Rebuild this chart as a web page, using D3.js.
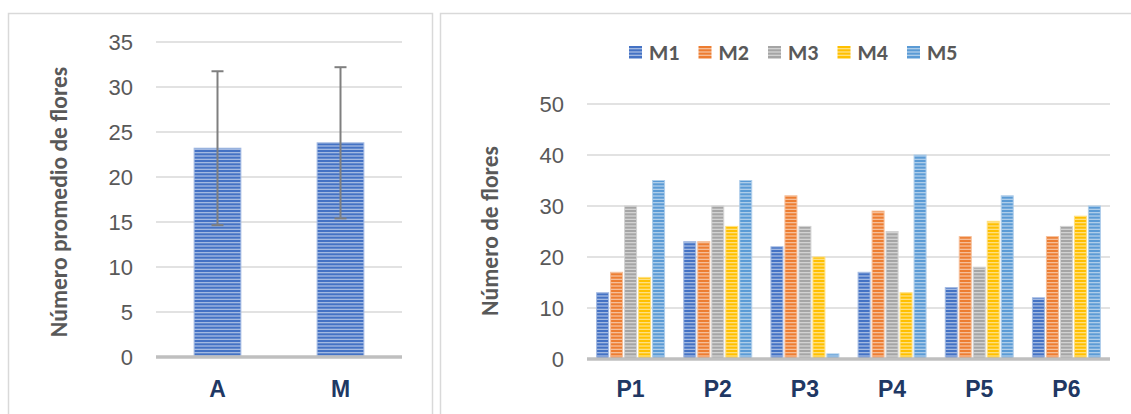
<!DOCTYPE html>
<html>
<head>
<meta charset="utf-8">
<script src="https://cdn.jsdelivr.net/npm/d3@7"></script>
<style>
  html, body { margin: 0; padding: 0; background: #fff; }
  svg { display: block; font-family: Carlito, "Open Sans", "Liberation Sans", sans-serif; }
</style>
</head>
<body>
<svg id="chart" width="1131" height="414"></svg>
<script>
// ---- Left chart: mean number of flowers with error bars ----
const groups = ["A", "M"];
const groupMeans = [23.2, 23.8];
const groupErrors = [8.55, 8.4];
const leftTicks = [0, 5, 10, 15, 20, 25, 30, 35];

// ---- Right chart: flowers per plant (P) and measurement (M) ----
const plants = ["P1", "P2", "P3", "P4", "P5", "P6"];
const series = ["M1", "M2", "M3", "M4", "M5"];
const M1 = [13, 23, 22, 17, 14, 12];
const M2 = [17, 23, 32, 29, 24, 24];
const M3 = [30, 30, 26, 25, 18, 26];
const M4 = [16, 26, 20, 13, 27, 28];
const M5 = [35, 35, 1, 40, 32, 30];
const rightTicks = [0, 10, 20, 30, 40, 50];

const seriesValues = [M1, M2, M3, M4, M5];
const seriesColors = ["#4472C4", "#ED7D31", "#A5A5A5", "#FFC000", "#5B9BD5"];

const svg = d3.select("#chart");
const defs = svg.append("defs");

// horizontal-stripe pattern fill for each colour
function stripePattern(id, color) {
  const light = d3.interpolateRgb(color, "#ffffff")(0.5);
  const p = defs.append("pattern")
    .attr("id", id)
    .attr("patternUnits", "userSpaceOnUse")
    .attr("width", 8).attr("height", 10);
  p.append("rect").attr("width", 8).attr("height", 10).attr("fill", light);
  [0, 3.33, 6.67].forEach(y =>
    p.append("rect").attr("y", y).attr("width", 8).attr("height", 2).attr("fill", color));
  return light;
}
const lightColors = seriesColors.map((c, i) => stripePattern("pat" + i, c));

// panel frames
svg.append("rect").attr("x", 8.5).attr("y", 13.5).attr("width", 424).attr("height", 420)
  .attr("fill", "#fff").attr("stroke", "#d9d9d9").attr("stroke-width", 1.5);
svg.append("rect").attr("x", 440.5).attr("y", 13.5).attr("width", 720).attr("height", 420)
  .attr("fill", "#fff").attr("stroke", "#d9d9d9").attr("stroke-width", 1.5);

const tickColor = "#595959";
const catColor = "#1F3864";
const tickSize = 22;
const catSize = 23;
const legendSize = 22;
const titleSize = 23.5;

// ================= Left chart =================
const xL = d3.scaleBand().domain(groups).range([156, 402]).paddingInner(0.62).paddingOuter(0.31);
const yL = d3.scaleLinear().domain([0, 35]).range([357, 42]);

const gL = svg.append("g");
gL.selectAll("line.grid").data(leftTicks.filter(t => t > 0)).join("line")
  .attr("x1", 156).attr("x2", 402)
  .attr("y1", d => yL(d)).attr("y2", d => yL(d))
  .attr("stroke", "#d9d9d9").attr("stroke-width", 1.5);

const axL = d3.axisLeft(yL).tickValues(leftTicks).tickSize(0).tickPadding(0);
const axLg = gL.append("g").attr("transform", "translate(133,0)").call(axL);
axLg.select(".domain").remove();
axLg.selectAll("text").attr("fill", tickColor).attr("font-size", tickSize).attr("dy", "0.35em");

gL.selectAll("rect.bar").data(groups).join("rect")
  .attr("x", d => xL(d)).attr("width", xL.bandwidth())
  .attr("y", (d, i) => yL(groupMeans[i]))
  .attr("height", (d, i) => yL(0) - yL(groupMeans[i]))
  .attr("fill", "url(#pat0)")
  .attr("stroke", lightColors[0]).attr("stroke-width", 1);

gL.append("line").attr("x1", 156).attr("x2", 402).attr("y1", yL(0)).attr("y2", yL(0))
  .attr("stroke", "#bfbfbf").attr("stroke-width", 3.5);

// error bars
const errG = gL.selectAll("g.err").data(groups).join("g")
  .attr("transform", d => `translate(${xL(d) + xL.bandwidth() / 2},0)`);
errG.append("line")
  .attr("y1", (d, i) => yL(groupMeans[i] + groupErrors[i]))
  .attr("y2", (d, i) => yL(groupMeans[i] - groupErrors[i]))
  .attr("stroke", "#7f7f7f").attr("stroke-width", 2);
errG.append("line").attr("x1", -6).attr("x2", 6)
  .attr("y1", (d, i) => yL(groupMeans[i] + groupErrors[i]))
  .attr("y2", (d, i) => yL(groupMeans[i] + groupErrors[i]))
  .attr("stroke", "#7f7f7f").attr("stroke-width", 2);
errG.append("line").attr("x1", -6).attr("x2", 6)
  .attr("y1", (d, i) => yL(groupMeans[i] - groupErrors[i]))
  .attr("y2", (d, i) => yL(groupMeans[i] - groupErrors[i]))
  .attr("stroke", "#7f7f7f").attr("stroke-width", 2);

const axLx = d3.axisBottom(xL).tickSize(0).tickPadding(0);
const axLxg = gL.append("g").attr("transform", "translate(0,397)").call(axLx);
axLxg.select(".domain").remove();
axLxg.selectAll("text").attr("fill", catColor).attr("font-size", catSize)
  .attr("font-weight", "bold").attr("dy", 0);

gL.append("text").attr("transform", "translate(67,202) rotate(-90)")
  .attr("text-anchor", "middle").attr("fill", tickColor)
  .attr("font-size", titleSize).attr("font-weight", "bold")
  .text("Número promedio de flores");

// ================= Right chart =================
const x0 = d3.scaleBand().domain(plants).range([587, 1110]).padding(0);
const x1 = d3.scaleBand().domain(series).range([0, x0.bandwidth()])
  .paddingInner(0.143).paddingOuter(0.686);
const yR = d3.scaleLinear().domain([0, 50]).range([359, 104]);

const gR = svg.append("g");
gR.selectAll("line.grid").data(rightTicks.filter(t => t > 0)).join("line")
  .attr("x1", 587).attr("x2", 1110)
  .attr("y1", d => yR(d)).attr("y2", d => yR(d))
  .attr("stroke", "#d9d9d9").attr("stroke-width", 1.5);

const axR = d3.axisLeft(yR).tickValues(rightTicks).tickSize(0).tickPadding(0);
const axRg = gR.append("g").attr("transform", "translate(564,0)").call(axR);
axRg.select(".domain").remove();
axRg.selectAll("text").attr("fill", tickColor).attr("font-size", tickSize).attr("dy", "0.35em");

series.forEach((s, si) => {
  gR.append("g").selectAll("rect").data(plants).join("rect")
    .attr("x", d => x0(d) + x1(s)).attr("width", x1.bandwidth())
    .attr("y", (d, i) => yR(seriesValues[si][i]))
    .attr("height", (d, i) => yR(0) - yR(seriesValues[si][i]))
    .attr("fill", `url(#pat${si})`)
    .attr("stroke", lightColors[si]).attr("stroke-width", 1);
});

gR.append("line").attr("x1", 587).attr("x2", 1110).attr("y1", yR(0)).attr("y2", yR(0))
  .attr("stroke", "#bfbfbf").attr("stroke-width", 3.5);

const axRx = d3.axisBottom(x0).tickSize(0).tickPadding(0);
const axRxg = gR.append("g").attr("transform", "translate(0,397)").call(axRx);
axRxg.select(".domain").remove();
axRxg.selectAll("text").attr("fill", catColor).attr("font-size", catSize)
  .attr("font-weight", "bold").attr("dy", 0);

gR.append("text").attr("transform", "translate(498,231) rotate(-90)")
  .attr("text-anchor", "middle").attr("fill", tickColor)
  .attr("font-size", titleSize).attr("font-weight", "bold")
  .text("Número de flores");

// legend
const legend = gR.append("g");
const legItem = legend.selectAll("g").data(series).join("g")
  .attr("transform", (d, i) => `translate(${629 + i * 69.5},46)`);
legItem.append("rect").attr("width", 13).attr("height", 13)
  .attr("fill", (d, i) => `url(#pat${i})`);
legItem.append("text").attr("x", 20).attr("y", 14)
  .attr("fill", tickColor).attr("font-size", legendSize).attr("font-weight", "bold")
  .text(d => d);
</script>
</body>
</html>
